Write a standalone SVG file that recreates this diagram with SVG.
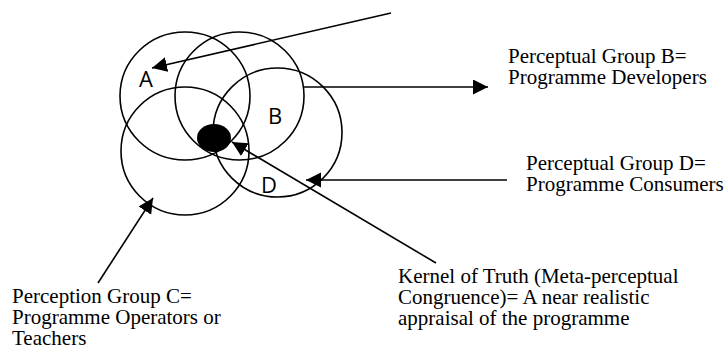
<svg xmlns="http://www.w3.org/2000/svg" width="728" height="349" viewBox="0 0 728 349">
<style>
.c{fill:none;stroke:#000;stroke-width:1.6}
.l{fill:none;stroke:#000;stroke-width:1.6}
.lab{font-family:'Open Sans','Liberation Sans',sans-serif;font-size:22px;fill:#000}
.t{font-family:'Liberation Serif','DejaVu Serif','Times New Roman',serif;font-size:21px;fill:#000}
</style>
<defs>
<marker id="ah" markerUnits="userSpaceOnUse" markerWidth="16" markerHeight="16" refX="15" refY="7.5" orient="auto">
<path d="M0,0 L15,7.5 L0,15 z" fill="#000"/>
</marker>
</defs>
<rect width="728" height="349" fill="#fff"/>
<g id="circleA"><ellipse class="c" cx="185" cy="96" rx="65" ry="64"/><text class="lab" x="139" y="87">A</text></g>
<g id="circleB"><ellipse class="c" cx="239.5" cy="96" rx="64.5" ry="64"/><text class="lab" x="268" y="124">B</text></g>
<g id="circleC"><ellipse class="c" cx="185" cy="151" rx="64" ry="64"/></g>
<g id="circleD"><ellipse class="c" cx="277.5" cy="132.5" rx="64.5" ry="64.5"/><text class="lab" x="261" y="193">D</text></g>
<g id="kernel"><ellipse cx="214" cy="138" rx="17" ry="14" fill="#000"/></g>
<g id="connectors">
<line class="l" x1="391" y1="13" x2="152" y2="68" marker-end="url(#ah)"/>
<line class="l" x1="304" y1="87" x2="488" y2="87" marker-end="url(#ah)"/>
<line class="l" x1="507" y1="180" x2="306" y2="180" marker-end="url(#ah)"/>
<line class="l" x1="436" y1="263" x2="232" y2="142" marker-end="url(#ah)"/>
<line class="l" x1="98" y1="283" x2="153" y2="198" marker-end="url(#ah)"/>
</g>
<g id="labelB"><text class="t" x="508" y="63">Perceptual Group B=</text><text class="t" x="508" y="84">Programme Developers</text></g>
<g id="labelD"><text class="t" x="526" y="170">Perceptual Group D=</text><text class="t" x="526" y="191">Programme Consumers</text></g>
<g id="labelC"><text class="t" x="12" y="303">Perception Group C=</text><text class="t" x="12" y="324">Programme Operators or</text><text class="t" x="12" y="345">Teachers</text></g>
<g id="labelK"><text class="t" x="398" y="283">Kernel of Truth (Meta-perceptual</text><text class="t" x="398" y="304">Congruence)= A near realistic</text><text class="t" x="398" y="325">appraisal of the programme</text></g>
</svg>
